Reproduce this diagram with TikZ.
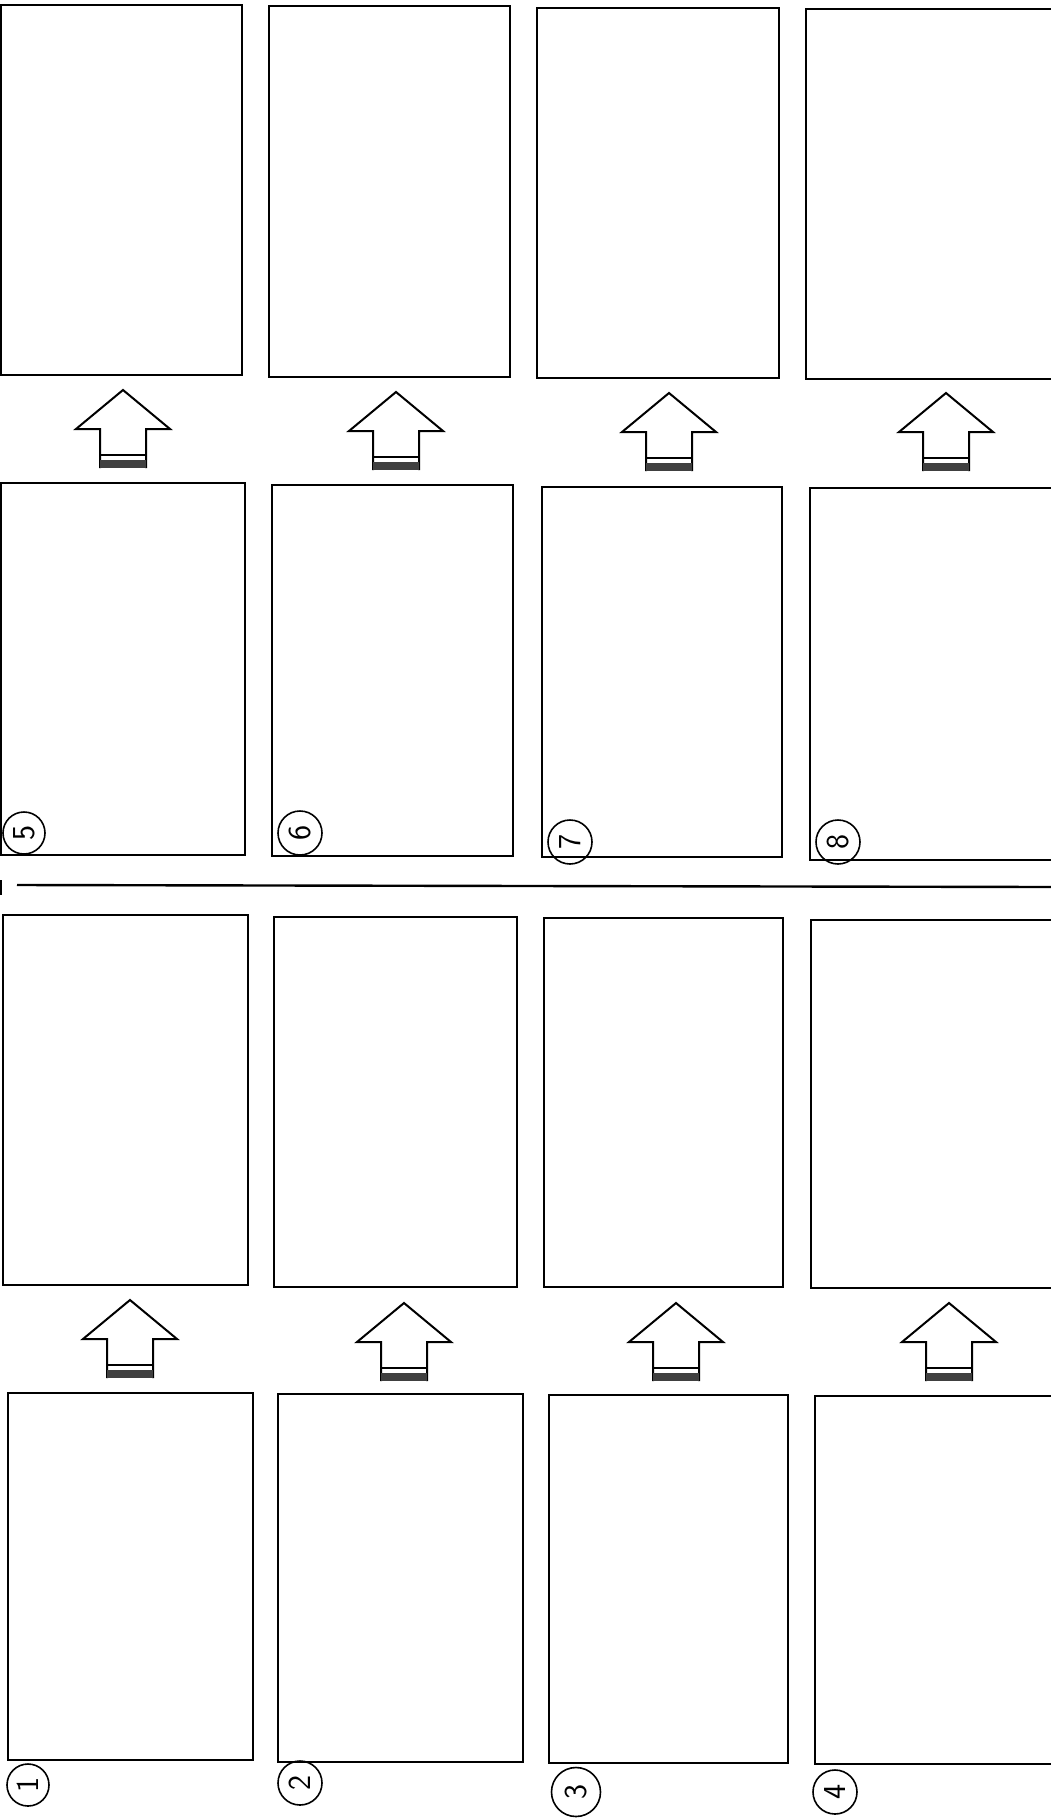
\documentclass[tikz,border=0pt]{standalone}
\usetikzlibrary{fit}
\begin{document}
\begin{tikzpicture}[x=1pt,y=-1pt,
  panel/.style={draw=black, line width=2.4pt, inner sep=0pt, fit={#1}},
  numcirc/.style={draw=black, line width=1.6pt, circle, inner sep=0pt, minimum size=42pt,
    font=\fontsize{32}{32}\selectfont\sffamily, rotate=90},
  arrowline/.style={draw=black, line width=2pt, line join=miter},
  uparrow/.pic={
    \draw[arrowline] (-23,78) -- (-23,39) -- (-47,39) -- (0,0) -- (47,39) -- (23,39) -- (23,78);
    \draw[line width=2.4pt] (-23,65) -- (23,65);
    \fill[black!75] (-23,70) rectangle (23,78);
  }]
\useasboundingbox (0,0) rectangle (1051,1818);
\clip (0,0) rectangle (1051,1818);
\fill[white] (0,0) rectangle (1051,1818);

% row A (top)
\node[panel={(1,5)(242,375)}] (A1) {};
\node[panel={(269,6)(510,377)}] (A2) {};
\node[panel={(537,8)(779,378)}] (A3) {};
\node[panel={(806,9)(1060,379)}] (A4) {};
% row B
\node[panel={(1,483)(245,855)}] (B1) {};
\node[panel={(272,485)(513,856)}] (B2) {};
\node[panel={(542,487)(782,857)}] (B3) {};
\node[panel={(810,488)(1060,860)}] (B4) {};
% row C
\node[panel={(3,915)(248,1285)}] (C1) {};
\node[panel={(274,917)(517,1287)}] (C2) {};
\node[panel={(544,918)(783,1287)}] (C3) {};
\node[panel={(811,920)(1060,1288)}] (C4) {};
% row D (bottom)
\node[panel={(8,1393)(253,1760)}] (D1) {};
\node[panel={(278,1394)(523,1762)}] (D2) {};
\node[panel={(549,1395)(788,1763)}] (D3) {};
\node[panel={(815,1396)(1060,1764)}] (D4) {};

% block arrows between rows
\pic (arA1) at (123,390) {uparrow};
\pic (arA2) at (396,392) {uparrow};
\pic (arA3) at (669,393) {uparrow};
\pic (arA4) at (946,393) {uparrow};
\pic (arC1) at (130,1300) {uparrow};
\pic (arC2) at (404,1303) {uparrow};
\pic (arC3) at (676,1303) {uparrow};
\pic (arC4) at (949,1303) {uparrow};

% dividing line
\coordinate (divL) at (17,885);
\coordinate (divR) at (1051,887);
\draw[line width=2.4pt] (divL) -- (divR);
\coordinate (tickT) at (1,880);
\coordinate (tickB) at (1,895);
\draw[line width=1.8pt] (tickT) -- (tickB);

% circled numbers
\node[numcirc] (n5) at (24,833) {5};
\node[numcirc, minimum size=44pt] (n6) at (300,833) {6};
\node[numcirc, minimum size=44pt] (n7) at (570,842) {7};
\node[numcirc, minimum size=44pt] (n8) at (838,842) {8};
\node[numcirc] (n1) at (28,1785) {1};
\node[numcirc, minimum size=44pt] (n2) at (300,1783) {2};
\node[numcirc, minimum size=49pt] (n3) at (576,1792) {3};
\node[numcirc, minimum size=44pt] (n4) at (835,1792) {4};
\end{tikzpicture}
\end{document}
